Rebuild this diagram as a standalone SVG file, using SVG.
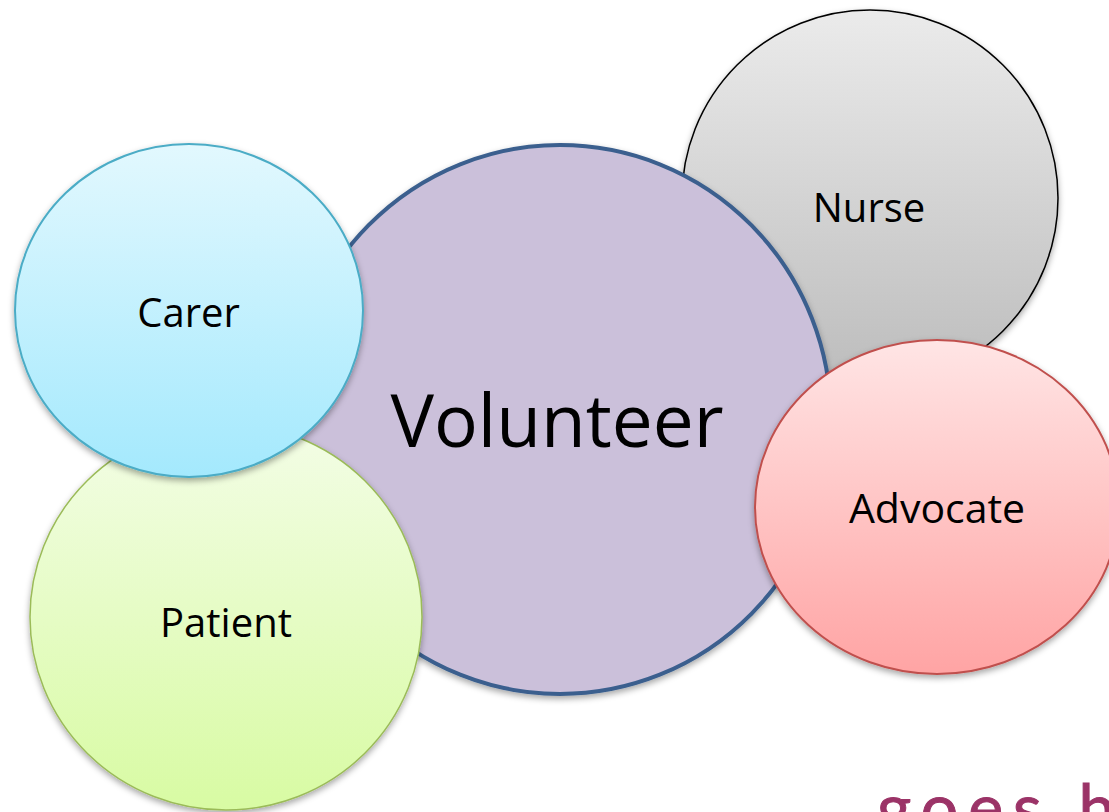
<svg xmlns="http://www.w3.org/2000/svg" width="1109" height="812" viewBox="0 0 1109 812">
<style>
.lbl{font-family:"Open Sans","Noto Sans","Liberation Sans",sans-serif;font-size:40px;fill:#000;text-anchor:middle}
.big{font-size:73px}
.node ellipse{filter:url(#sh)}
</style>
<defs>
<filter id="sh" x="-10%" y="-10%" width="120%" height="125%">
<feDropShadow dx="0" dy="3" stdDeviation="3" flood-color="#000" flood-opacity="0.35"/>
</filter>
<linearGradient id="gN" x1="0" y1="0" x2="0" y2="1"><stop offset="0" stop-color="#ebebeb"/><stop offset="1" stop-color="#bcbcbc"/></linearGradient>
<linearGradient id="gC" x1="0" y1="0" x2="0" y2="1"><stop offset="0" stop-color="#e2f8fe"/><stop offset="1" stop-color="#a4e9fd"/></linearGradient>
<linearGradient id="gP" x1="0" y1="0" x2="0" y2="1"><stop offset="0" stop-color="#f3fde6"/><stop offset="1" stop-color="#d8fba3"/></linearGradient>
<linearGradient id="gA" x1="0" y1="0" x2="0" y2="1"><stop offset="0" stop-color="#ffe5e5"/><stop offset="1" stop-color="#ffa4a4"/></linearGradient>
</defs>
<rect width="1109" height="812" fill="#fff"/>
<g id="nurse" class="node">
<ellipse cx="870" cy="198" rx="188" ry="188" fill="url(#gN)" stroke="#000" stroke-width="1.5"/>
<text class="lbl" x="869" y="222">Nurse</text>
</g>
<g id="volunteer" class="node">
<ellipse cx="560" cy="419.5" rx="271" ry="274.5" fill="#cbc0da" stroke="#3b5f8e" stroke-width="4"/>
<text class="lbl big" x="557" y="447">Volunteer</text>
</g>
<g id="patient" class="node">
<ellipse cx="226" cy="617" rx="196" ry="193" fill="url(#gP)" stroke="#9bbb59" stroke-width="1.5"/>
<text class="lbl" x="226" y="637">Patient</text>
</g>
<g id="carer" class="node">
<ellipse cx="189" cy="310.5" rx="174" ry="166.5" fill="url(#gC)" stroke="#4bacc6" stroke-width="2"/>
<text class="lbl" x="188.5" y="327">Carer</text>
</g>
<g id="advocate" class="node">
<ellipse cx="937" cy="507" rx="182" ry="167" fill="url(#gA)" stroke="#c0504d" stroke-width="2"/>
<text class="lbl" x="937" y="523" style="font-size:41px">Advocate</text>
</g>
<g id="connectors"></g>
<text x="877" y="831" style="font-family:'Lato','Open Sans',sans-serif;font-size:66px;letter-spacing:10px;fill:#9b3367;stroke:#9b3367;stroke-width:1">goes h</text>
</svg>
